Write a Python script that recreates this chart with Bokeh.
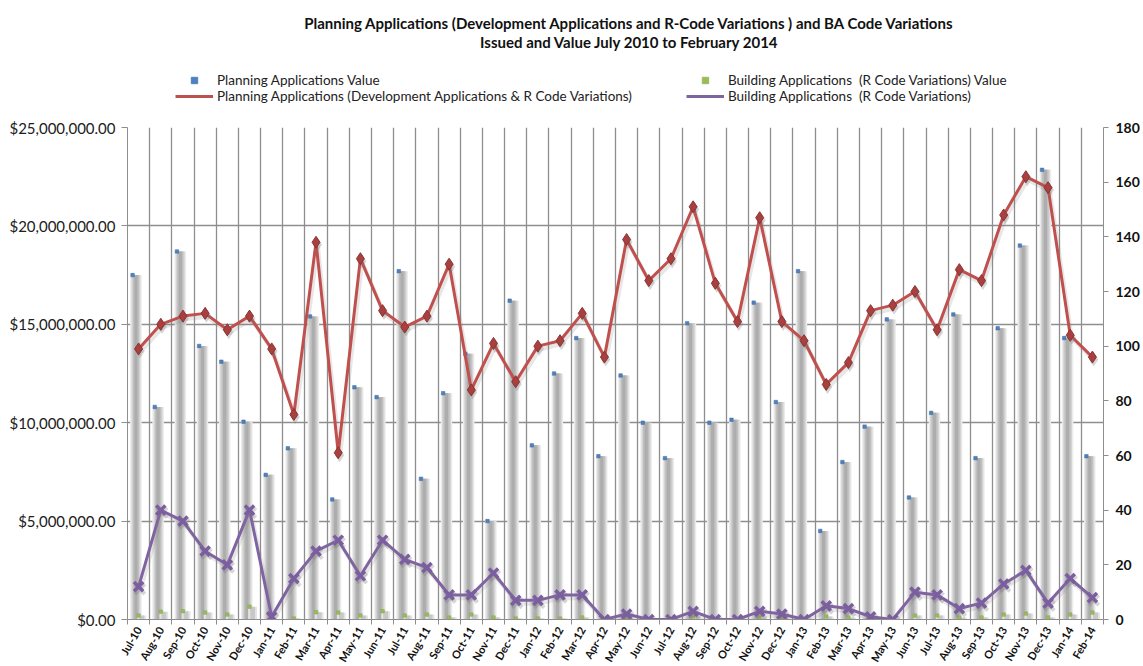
import math
from bokeh.plotting import figure
from bokeh.layouts import column
from bokeh.models import (Range1d, LinearAxis, FixedTicker, NumeralTickFormatter, Legend,
                          LegendItem, Label, ColumnDataSource, CustomJSTickFormatter)
from bokeh.transform import dodge
from bokeh.embed import file_html
from bokeh.resources import INLINE

months = ["Jul-10", "Aug-10", "Sep-10", "Oct-10", "Nov-10", "Dec-10",
          "Jan-11", "Feb-11", "Mar-11", "Apr-11", "May-11", "Jun-11",
          "Jul-11", "Aug-11", "Sep-11", "Oct-11", "Nov-11", "Dec-11",
          "Jan-12", "Feb-12", "Mar-12", "Apr-12", "May-12", "Jun-12",
          "Jul-12", "Aug-12", "Sep-12", "Oct-12", "Nov-12", "Dec-12",
          "Jan-13", "Feb-13", "Mar-13", "Apr-13", "May-13", "Jun-13",
          "Jul-13", "Aug-13", "Sep-13", "Oct-13", "Nov-13", "Dec-13",
          "Jan-14", "Feb-14"]

# Planning Applications Value ($ millions)
planning_value_m = [17.5, 10.8, 18.7, 13.9, 13.1, 10.05,
                    7.35, 8.7, 15.4, 6.1, 11.8, 11.3,
                    17.7, 7.15, 11.5, 13.5, 5.0, 16.2,
                    8.85, 12.5, 14.3, 8.3, 12.4, 10.0,
                    8.2, 15.05, 10.0, 10.15, 16.1, 11.05,
                    17.7, 4.5, 8.0, 9.8, 15.25, 6.2,
                    10.5, 15.5, 8.2, 14.8, 19.0, 22.85,
                    14.3, 8.3]

# Building Applications (R Code Variations) Value ($ millions)
building_value_m = [0.2, 0.4, 0.42, 0.35, 0.25, 0.65,
                    0.02, 0.05, 0.37, 0.35, 0.2, 0.42,
                    0.2, 0.25, 0.1, 0.25, 0.1, 0.05,
                    0.05, 0.05, 0.1, 0.02, 0.1, 0.02,
                    0.02, 0.15, 0.02, 0.02, 0.1, 0.1,
                    0.02, 0.15, 0.1, 0.05, 0.02, 0.2,
                    0.2, 0.1, 0.1, 0.25, 0.3, 0.1,
                    0.25, 0.35]

# Planning Applications (Development Applications & R Code Variations) count
planning_count = [99, 108, 111, 112, 106, 111,
                  99, 75, 138, 61, 132, 113,
                  107, 111, 130, 84, 101, 87,
                  100, 102, 112, 96, 139, 124,
                  132, 151, 123, 109, 147, 109,
                  102, 86, 94, 113, 115, 120,
                  106, 128, 124, 148, 162, 158,
                  104, 96]

# Building Applications (R Code Variations) count
building_count = [12, 40, 36, 25, 20, 40,
                  1, 15, 25, 29, 16, 29,
                  22, 19, 9, 9, 17, 7,
                  7, 9, 9, 0, 2, 0,
                  0, 3, 0, 0, 3, 2,
                  0, 5, 4, 1, 0, 10,
                  9, 4, 6, 13, 18, 6,
                  15, 8]

left_ticks = [0, 5e6, 10e6, 15e6, 20e6, 25e6]
right_ticks = [0, 20, 40, 60, 80, 100, 120, 140, 160, 180]

title_line1 = "Planning Applications (Development Applications and R-Code Variations )  and BA Code Variations"
title_line2 = "Issued and  Value July 2010 to February 2014"
legend_labels = ["Planning Applications Value",
                 "Planning Applications (Development Applications & R Code Variations)",
                 "Building Applications  (R Code Variations) Value",
                 "Building Applications  (R Code Variations)"]

FONT = "Lato"
GRID = "#8e8e8e"
C_PV, C_BV, C_PC, C_BC = "#4F81BD", "#9BBB59", "#C0504D", "#8064A2"
FRAME_LEFT = 127

n = len(months)
src = ColumnDataSource(dict(
    x=list(range(n)),
    pv=[v * 1e6 for v in planning_value_m],
    bv=[v * 1e6 for v in building_value_m],
    pc=planning_count,
    bc=building_count,
))

# ---------------- header: title + legend ----------------
HW, HH = 1140, 117
head = figure(width=HW, height=HH, x_range=Range1d(0, 1), y_range=Range1d(0, 1),
              output_backend="svg", toolbar_location=None, title=None,
              min_border=0, min_border_left=0, min_border_right=0,
              min_border_top=0, min_border_bottom=0)
head.axis.visible = False
head.grid.visible = False
head.outline_line_color = None

# legend proxies (no visible marks: a single undefined point)
proxy = ColumnDataSource(dict(x=[float("nan")], y=[float("nan")]))
h_pv = head.scatter("x", "y", source=proxy, marker="square", size=4,
                    fill_color=C_PV, line_color=C_PV)
h_pc = head.line("x", "y", source=proxy, line_color=C_PC, line_width=3)
h_bv = head.scatter("x", "y", source=proxy, marker="square", size=4,
                    fill_color=C_BV, line_color=C_BV)
h_bc = head.line("x", "y", source=proxy, line_color=C_BC, line_width=3)

def make_legend(items, x):
    # location is measured from the frame's bottom-left (frame starts at FRAME_LEFT)
    return Legend(items=items, location=(x - FRAME_LEFT, HH - 104),
                  glyph_width=38, glyph_height=16, label_height=16,
                  spacing=0, padding=0, margin=0, label_standoff=4,
                  border_line_color=None, background_fill_alpha=0,
                  label_text_font=FONT, label_text_font_size="13.5px",
                  label_text_color="#222222", orientation="vertical")

head.add_layout(make_legend([LegendItem(label=legend_labels[0], renderers=[h_pv]),
                             LegendItem(label=legend_labels[1], renderers=[h_pc])], 175), "center")
head.add_layout(make_legend([LegendItem(label=legend_labels[2], renderers=[h_bv]),
                             LegendItem(label=legend_labels[3], renderers=[h_bc])], 686), "center")

for txt, yy in [(title_line1, 22), (title_line2, 41)]:
    head.add_layout(Label(x=631 - FRAME_LEFT, y=HH - yy, x_units="screen", y_units="screen",
                          text=txt, text_align="center", text_baseline="middle",
                          text_font=FONT, text_font_style="bold",
                          text_font_size="15px", text_color="#111111"))

# ---------------- main chart ----------------
p = figure(frame_width=976, frame_height=492, title=None,
           x_range=Range1d(-0.5, n - 0.5), y_range=Range1d(0, 25e6),
           output_backend="svg", toolbar_location=None,
           min_border_left=FRAME_LEFT, min_border_top=10, min_border_right=0, min_border_bottom=0)
p.extra_y_ranges = {"right": Range1d(0, 180)}
p.outline_line_color = None
p.background_fill_color = "white"

p.xgrid.ticker = FixedTicker(ticks=[k - 0.5 for k in range(n + 1)])
p.ygrid.ticker = FixedTicker(ticks=left_ticks)
for g in (p.xgrid[0], p.ygrid[0]):
    g.grid_line_color = GRID
    g.grid_line_width = 1.3

ly = p.yaxis[0]
ly.ticker = FixedTicker(ticks=left_ticks)
ly.formatter = NumeralTickFormatter(format="$0,0.00")
ly.axis_line_color = GRID
ly.major_tick_line_color = GRID
ly.major_tick_out = 6
ly.major_tick_in = 0
ly.minor_tick_line_color = None
ly.major_label_text_font = FONT
ly.major_label_text_font_size = "15px"
ly.major_label_text_color = "#202020"
ly.major_label_standoff = 6

ry = LinearAxis(y_range_name="right", ticker=FixedTicker(ticks=right_ticks))
ry.axis_line_color = GRID
ry.major_tick_line_color = GRID
ry.major_tick_out = 5
ry.major_tick_in = 0
ry.minor_tick_line_color = None
ry.major_label_text_font = FONT
ry.major_label_text_font_style = "bold"
ry.major_label_text_font_size = "14px"
ry.major_label_text_color = "#111111"
ry.major_label_standoff = 7
p.add_layout(ry, "right")

xa = p.xaxis[0]
xa.ticker = FixedTicker(ticks=list(range(n)), minor_ticks=[k - 0.5 for k in range(n + 1)])
xa.formatter = CustomJSTickFormatter(args=dict(labels=months),
                                     code="return labels[Math.round(tick)] || '';")
xa.major_label_orientation = math.pi / 3
xa.major_tick_out = 0
xa.major_tick_in = 0
xa.minor_tick_out = 5
xa.minor_tick_in = 0
xa.minor_tick_line_color = GRID
xa.axis_line_color = GRID
xa.major_label_standoff = 3
xa.major_label_text_font = FONT
xa.major_label_text_font_style = "bold"
xa.major_label_text_font_size = "11px"
xa.major_label_text_color = "#111111"

for w, c in [(0.52, "#ebebeb"), (0.40, "#d4d4d4"), (0.28, "#bfbfbf"), (0.14, "#adadad")]:
    p.vbar(x=dodge("x", -0.12), top="pv", width=w, source=src,
           fill_color=c, line_color=None)
for w, c in [(0.40, "#e4e4e4"), (0.22, "#c8c8c8")]:
    p.vbar(x=dodge("x", 0.14), top="bv", width=w, source=src,
           fill_color=c, line_color=None)

p.scatter(dodge("x", -0.27), "pv", source=src, marker="square", size=3.5,
          fill_color=C_PV, line_color="#3c6aa3", line_width=0.5)
p.scatter(dodge("x", 0.0), "bv", source=src, marker="square", size=3.5,
          fill_color=C_BV, line_color="#86a84a", line_width=0.5)

p.line(dodge("x", 0.08), dodge("pc", -1.2), source=src, y_range_name="right",
       line_color="#7a7a7a", line_width=4, line_alpha=0.18)
p.line(dodge("x", 0.08), dodge("bc", -1.2), source=src, y_range_name="right",
       line_color="#7a7a7a", line_width=4, line_alpha=0.18)

p.line("x", "pc", source=src, y_range_name="right", line_color=C_PC, line_width=3)
p.scatter(dodge("x", 0.06), dodge("pc", -0.9), source=src, y_range_name="right",
          marker="diamond", size=14, fill_color="#777777", fill_alpha=0.3, line_color=None)
p.scatter("x", "pc", source=src, y_range_name="right", marker="diamond", size=12,
          fill_color="#A8403F", line_color="#8A3332", line_width=1)

p.line("x", "bc", source=src, y_range_name="right", line_color=C_BC, line_width=3)
p.scatter(dodge("x", 0.06), dodge("bc", -0.9), source=src, y_range_name="right",
          marker="x", size=14, line_color="#777777", line_alpha=0.3, line_width=4)
p.scatter("x", "bc", source=src, y_range_name="right", marker="x", size=13,
          line_color="#7B5EA0", line_width=3.5)

layout = column(head, p, spacing=0)
open("out.html", "w").write(file_html(layout, INLINE))
